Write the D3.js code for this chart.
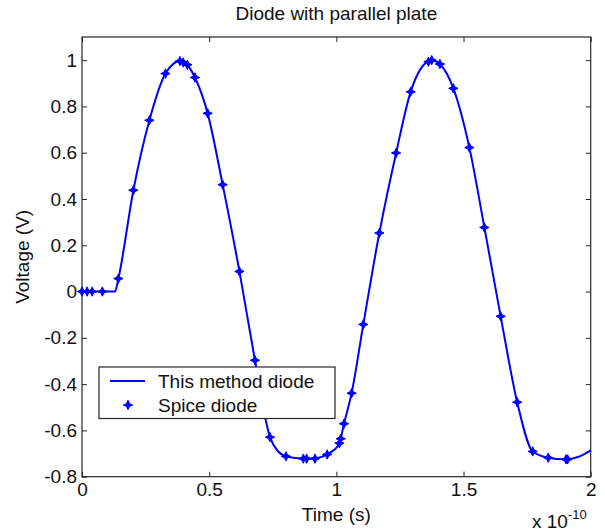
<!DOCTYPE html>
<html>
<head>
<meta charset="utf-8">
<script src="https://cdn.jsdelivr.net/npm/d3@7"></script>
<style>
  body { margin: 0; background: #fff; }
  svg { display: block; font-family: "Liberation Sans", Arial, sans-serif; }
</style>
</head>
<body>
<div id="chart"></div>
<script>
// time in units of 1e-10 s, voltage in V
var lineTime = [0, 0.13, 0.143, 0.202, 0.265, 0.328, 0.36, 0.39, 0.414, 0.444, 0.494, 0.553, 0.619, 0.68, 0.739,
    0.77, 0.802, 0.84, 0.88, 0.93, 0.964, 0.99, 1.012, 1.03, 1.06, 1.106, 1.169, 1.235, 1.292, 1.33, 1.375,
    1.407, 1.46, 1.523, 1.582, 1.646, 1.711, 1.772, 1.833, 1.9, 1.95, 2.0];
var lineVolt = [0, 0, 0.056, 0.438, 0.74, 0.942, 0.985, 1.0, 0.98, 0.925, 0.77, 0.462, 0.087, -0.297, -0.629,
    -0.69, -0.712, -0.719, -0.722, -0.718, -0.704, -0.685, -0.655, -0.571, -0.439, -0.142, 0.253, 0.599, 0.863, 0.96, 1.0,
    0.983, 0.878, 0.622, 0.277, -0.107, -0.478, -0.691, -0.718, -0.725, -0.715, -0.686];

var spiceTime = [0, 0.02, 0.04, 0.08, 0.143, 0.202, 0.265, 0.328, 0.385, 0.398, 0.414, 0.444, 0.494, 0.553, 0.619,
    0.68, 0.739, 0.802, 0.87, 0.883, 0.916, 0.964, 1.012, 1.017, 1.03, 1.06, 1.106, 1.169, 1.235, 1.292,
    1.362, 1.375, 1.407, 1.46, 1.523, 1.582, 1.646, 1.711, 1.772, 1.833, 1.903, 1.909];
var spiceVolt = [0, 0, 0, 0, 0.056, 0.438, 0.74, 0.942, 0.996, 0.99, 0.98, 0.925, 0.77, 0.462, 0.087,
    -0.297, -0.629, -0.712, -0.722, -0.722, -0.722, -0.704, -0.655, -0.636, -0.571, -0.439, -0.142, 0.253, 0.599, 0.863,
    0.993, 1.0, 0.983, 0.878, 0.622, 0.277, -0.107, -0.478, -0.691, -0.718, -0.725, -0.725];

var xTicks = [0, 0.5, 1, 1.5, 2];
var yTicks = [-0.8, -0.6, -0.4, -0.2, 0, 0.2, 0.4, 0.6, 0.8, 1];
var seriesNames = ["This method diode", "Spice diode"];

var width = 605, height = 531;
var plot = { left: 82, right: 590.7, top: 37, bottom: 476.7 };
var blue = "#0000ff";
var fontSize = 19;

var svg = d3.select("#chart").append("svg")
    .attr("width", width)
    .attr("height", height);

var x = d3.scaleLinear().domain([0, 2]).range([plot.left, plot.right]);
var y = d3.scaleLinear().domain([-0.8, 1.1]).range([plot.bottom, plot.top]);

var fmt = function(d) { return String(+d.toFixed(1)); };

// four pointed star marker
var star4 = {
    draw: function(context, size) {
        var r = Math.sqrt(size), ri = r * 0.32;
        context.moveTo(0, -r);
        context.lineTo(ri, -ri);
        context.lineTo(r, 0);
        context.lineTo(ri, ri);
        context.lineTo(0, r);
        context.lineTo(-ri, ri);
        context.lineTo(-r, 0);
        context.lineTo(-ri, -ri);
        context.closePath();
    }
};
var marker = d3.symbol().type(star4).size(22);

// axes, ticks pointing inward
function styleAxis(g) {
    g.select(".domain").remove();
    g.selectAll(".tick line").attr("stroke", "#262626");
    g.selectAll(".tick text").attr("fill", "#111").attr("font-size", fontSize);
}

svg.append("g")
    .attr("transform", "translate(0," + plot.bottom + ")")
    .call(d3.axisBottom(x).tickValues(xTicks).tickFormat(fmt).tickSizeInner(-5).tickSizeOuter(0).tickPadding(6))
    .call(styleAxis);

svg.append("g")
    .attr("transform", "translate(0," + plot.top + ")")
    .call(d3.axisTop(x).tickValues(xTicks).tickFormat("").tickSizeInner(-5).tickSizeOuter(0))
    .call(styleAxis);

svg.append("g")
    .attr("transform", "translate(" + plot.left + ",0)")
    .call(d3.axisLeft(y).tickValues(yTicks).tickFormat(fmt).tickSizeInner(-5).tickSizeOuter(0).tickPadding(5))
    .call(styleAxis);

svg.append("g")
    .attr("transform", "translate(" + plot.right + ",0)")
    .call(d3.axisRight(y).tickValues(yTicks).tickFormat("").tickSizeInner(-5).tickSizeOuter(0))
    .call(styleAxis);

svg.append("rect")
    .attr("x", plot.left)
    .attr("y", plot.top)
    .attr("width", plot.right - plot.left)
    .attr("height", plot.bottom - plot.top)
    .attr("fill", "none")
    .attr("stroke", "#262626")
    .attr("stroke-width", 1.2);

// data
var lineData = lineTime.map(function(t, i) { return [t, lineVolt[i]]; });
var spiceData = spiceTime.map(function(t, i) { return [t, spiceVolt[i]]; });

var line = d3.line()
    .x(function(d) { return x(d[0]); })
    .y(function(d) { return y(d[1]); })
    .curve(d3.curveMonotoneX);

svg.append("path")
    .datum(lineData)
    .attr("d", line)
    .attr("fill", "none")
    .attr("stroke", blue)
    .attr("stroke-width", 2);

svg.append("g")
    .selectAll("path")
    .data(spiceData)
    .enter().append("path")
    .attr("transform", function(d) { return "translate(" + x(d[0]) + "," + y(d[1]) + ")"; })
    .attr("d", marker)
    .attr("fill", blue)
    .attr("stroke", blue)
    .attr("stroke-width", 1);

// titles
svg.append("text")
    .attr("x", (plot.left + plot.right) / 2)
    .attr("y", 20)
    .attr("text-anchor", "middle")
    .attr("font-size", fontSize)
    .attr("fill", "#111")
    .text("Diode with parallel plate");

svg.append("text")
    .attr("x", (plot.left + plot.right) / 2)
    .attr("y", 521)
    .attr("text-anchor", "middle")
    .attr("font-size", fontSize)
    .attr("fill", "#111")
    .text("Time (s)");

svg.append("text")
    .attr("transform", "translate(29," + (plot.top + plot.bottom) / 2 + ") rotate(-90)")
    .attr("text-anchor", "middle")
    .attr("font-size", fontSize)
    .attr("fill", "#111")
    .text("Voltage (V)");

var expo = svg.append("text")
    .attr("x", 532)
    .attr("y", 528)
    .attr("font-size", fontSize)
    .attr("fill", "#111");
expo.append("tspan").text("x 10");
expo.append("tspan").attr("dy", -9).attr("font-size", 13).text("-10");

// legend
var legend = svg.append("g").attr("transform", "translate(99,367)");

legend.append("rect")
    .attr("width", 236)
    .attr("height", 51.5)
    .attr("fill", "#fff")
    .attr("stroke", "#262626")
    .attr("stroke-width", 1.2);

var items = legend.selectAll("g.lgd")
    .data(seriesNames)
    .enter().append("g")
    .attr("class", "lgd")
    .attr("transform", function(d, i) { return "translate(0," + (14 + i * 24) + ")"; });

items.filter(function(d, i) { return i === 0; })
    .append("line")
    .attr("x1", 11).attr("x2", 46)
    .attr("stroke", blue)
    .attr("stroke-width", 2);

items.filter(function(d, i) { return i === 1; })
    .append("path")
    .attr("transform", "translate(29,0)")
    .attr("d", marker)
    .attr("fill", blue)
    .attr("stroke", blue);

items.append("text")
    .attr("x", 59)
    .attr("dy", "0.35em")
    .attr("font-size", fontSize)
    .attr("fill", "#111")
    .text(function(d) { return d; });
</script>
</body>
</html>
